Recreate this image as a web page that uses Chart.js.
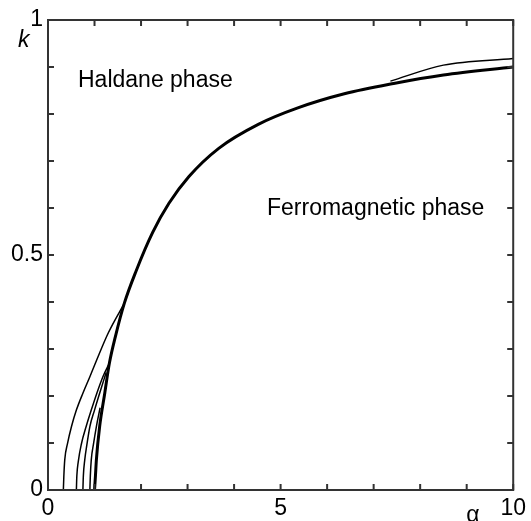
<!DOCTYPE html>
<html>
<head>
<meta charset="utf-8">
<script src="https://cdn.jsdelivr.net/npm/chart.js@4"></script>
<style>
  html, body { margin: 0; padding: 0; background: #fff; }
  #wrap { width: 531px; height: 521px; }
</style>
</head>
<body>
<div id="wrap"><canvas id="c" width="531" height="521"></canvas></div>
<script>
// ---- data ----
const alphaMain = [1.0, 1.02, 1.04, 1.11, 1.22, 1.32, 1.45, 1.64, 1.89, 2.25, 2.6, 3.03, 3.67, 4.52, 5.37, 6.37, 7.43, 8.5, 10];
const kMain     = [0, 0.03, 0.064, 0.135, 0.206, 0.27, 0.327, 0.397, 0.465, 0.548, 0.61, 0.667, 0.727, 0.778, 0.813, 0.843, 0.865, 0.883, 0.90];

const alphaA = [0.33, 0.34, 0.36, 0.42, 0.505, 0.61, 0.75, 0.90, 1.04, 1.3, 1.64];
const kA     = [0, 0.028, 0.064, 0.099, 0.135, 0.17, 0.206, 0.241, 0.275, 0.335, 0.397];

const alphaB = [0.61, 0.62, 0.65, 0.72, 0.82, 0.93, 1.05, 1.18, 1.33];
const kB     = [0, 0.03, 0.06, 0.099, 0.135, 0.17, 0.206, 0.241, 0.272];

const alphaC = [0.75, 0.76, 0.79, 0.84, 0.90, 1.0, 1.11, 1.25];
const kC     = [0, 0.03, 0.064, 0.099, 0.135, 0.17, 0.206, 0.25];

const alphaD = [0.90, 0.91, 0.93, 0.98, 1.04, 1.12];
const kD     = [0, 0.03, 0.064, 0.099, 0.135, 0.175];

const alphaUp = [7.36, 8.5, 10];
const kUp     = [0.870, 0.904, 0.918];

const xLabelTicks = [0, 5, 10];
const yLabelTicks = [0, 0.5, 1];
const xStep = 1;
const yStep = 0.1;

const FONT = "'Liberation Sans', Arial, Helvetica, sans-serif";
const AXIS_COLOR = '#333';

function pts(xs, ys) { return xs.map((x, i) => ({ x: x, y: ys[i] })); }
function ds(xs, ys, w) {
  return {
    data: pts(xs, ys),
    borderColor: '#000',
    borderWidth: w,
    pointRadius: 0,
    fill: false,
    cubicInterpolationMode: 'monotone'
  };
}

const framePlugin = {
  id: 'frame',
  afterDraw(chart) {
    const ctx = chart.ctx;
    const a = chart.chartArea;
    const xs = chart.scales.x, ys = chart.scales.y;
    ctx.save();
    ctx.strokeStyle = AXIS_COLOR;
    ctx.lineWidth = 2;
    ctx.strokeRect(a.left, a.top, a.right - a.left, a.bottom - a.top);
    const TL = 6;
    ctx.beginPath();
    xs.ticks.forEach(t => {
      const px = xs.getPixelForValue(t.value);
      ctx.moveTo(px, a.bottom); ctx.lineTo(px, a.bottom - TL);
      ctx.moveTo(px, a.top); ctx.lineTo(px, a.top + TL);
    });
    ys.ticks.forEach(t => {
      const py = ys.getPixelForValue(t.value);
      ctx.moveTo(a.left, py); ctx.lineTo(a.left + TL, py);
      ctx.moveTo(a.right, py); ctx.lineTo(a.right - TL, py);
    });
    ctx.stroke();

    ctx.fillStyle = '#000';
    ctx.textBaseline = 'alphabetic';
    ctx.textAlign = 'left';
    ctx.font = "italic 23px " + FONT;
    ctx.fillText('k', 18, 47);
    ctx.font = "23px " + FONT;
    ctx.textAlign = 'center';
    ctx.fillText('α', 473, 522);
    ctx.textAlign = 'left';
    ctx.fillText('Haldane phase', 78, 87);
    ctx.fillText('Ferromagnetic phase', 267, 215);
    ctx.restore();
  }
};

new Chart(document.getElementById('c'), {
  type: 'line',
  data: {
    datasets: [
      ds(alphaA, kA, 1.5),
      ds(alphaB, kB, 1.5),
      ds(alphaC, kC, 1.5),
      ds(alphaD, kD, 1.5),
      ds(alphaUp, kUp, 1.5),
      ds(alphaMain, kMain, 3)
    ]
  },
  options: {
    responsive: false,
    animation: false,
    devicePixelRatio: 1,
    layout: { padding: { top: 20, right: 14, left: 0, bottom: 0 } },
    plugins: { legend: { display: false }, tooltip: { enabled: false } },
    scales: {
      x: {
        type: 'linear', min: 0, max: 10,
        grid: { display: false, drawTicks: false },
        border: { display: false },
        afterFit(s) { s.height = 31; },
        ticks: {
          stepSize: xStep, autoSkip: false, maxRotation: 0, padding: 5,
          color: '#000', font: { family: FONT, size: 23 },
          callback: v => xLabelTicks.some(l => Math.abs(l - v) < 1e-9) ? String(v) : ''
        }
      },
      y: {
        type: 'linear', min: 0, max: 1,
        grid: { display: false, drawTicks: false },
        border: { display: false },
        afterFit(s) { s.width = 48; },
        ticks: {
          stepSize: yStep, autoSkip: false, padding: 5,
          color: '#000', font: { family: FONT, size: 23 },
          callback: v => {
            const l = yLabelTicks.find(l => Math.abs(l - v) < 1e-9);
            return l === undefined ? '' : String(l);
          }
        }
      }
    }
  },
  plugins: [framePlugin]
});
</script>
</body>
</html>
